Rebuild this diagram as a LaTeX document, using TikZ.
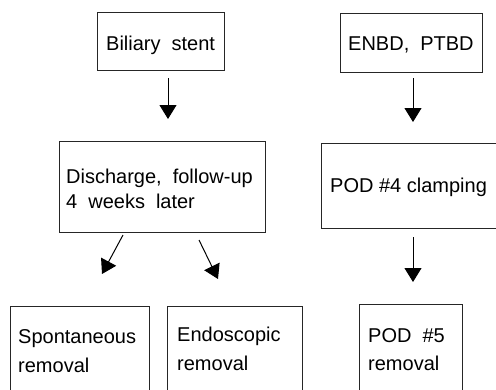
\documentclass[tikz,border=0pt]{standalone}
\usepackage{fontspec}
\setmainfont{Liberation Sans}
\usetikzlibrary{arrows.meta}
\begin{document}
\begin{tikzpicture}[x=1pt,y=-1pt,
  box/.style={draw=black!85, line width=0.8pt, inner sep=0pt, outer sep=0pt},
  txt/.style={anchor=base west, inner sep=0pt, font=\fontsize{20}{25}\selectfont, text=black},
  wide/.style={execute at begin node={\spaceskip=11pt plus 1pt}},
  arr/.style={line width=1pt, -{Triangle[length=14pt,width=17pt]}}]
\useasboundingbox (0,0) rectangle (496,389);
\clip (0,0) rectangle (496,389);
% boxes
\node[box, minimum width=127pt, minimum height=58pt] (b1) at (160.5,41) {};
\node[box, minimum width=142pt, minimum height=59pt] (b2) at (411,42.5) {};
\node[box, minimum width=206pt, minimum height=91pt] (b3) at (162,186.5) {};
\node[box, minimum width=189pt, minimum height=85pt] (b4) at (415.5,185.5) {};
\node[box, minimum width=139pt, minimum height=100pt] (b5) at (79.5,356) {};
\node[box, minimum width=135pt, minimum height=100pt] (b6) at (234.5,356) {};
\node[box, minimum width=103pt, minimum height=102pt] (b7) at (410.5,355) {};
% texts
\node[txt, wide] (t1) at (106,50) {Biliary stent};
\node[txt, wide] (t2) at (348,50) {ENBD, PTBD};
\node[txt, wide] (t3a) at (66,183) {Discharge, follow-up};
\node[txt, wide] (t3b) at (66,208) {4 weeks later};
\node[txt] (t4) at (330,192) {POD \#4 clamping};
\node[txt] (t5a) at (18,343) {Spontaneous};
\node[txt] (t5b) at (18,372) {removal};
\node[txt] (t6a) at (177,341) {Endoscopic};
\node[txt] (t6b) at (177,370) {removal};
\node[txt, wide] (t7a) at (368,342) {POD \#5};
\node[txt] (t7b) at (368,370) {removal};
% arrow ends
\coordinate (a1s) at (168,78);  \coordinate (a1e) at (168,119);
\coordinate (a2s) at (413,78);  \coordinate (a2e) at (413,122);
\coordinate (a3s) at (123,235); \coordinate (a3e) at (102,274);
\coordinate (a4s) at (199,240); \coordinate (a4e) at (218,279);
\coordinate (a5s) at (413,237); \coordinate (a5e) at (413,282);
\draw[arr] (a1s) -- (a1e);
\draw[arr] (a2s) -- (a2e);
\draw[arr] (a3s) -- (a3e);
\draw[arr] (a4s) -- (a4e);
\draw[arr] (a5s) -- (a5e);
\end{tikzpicture}
\end{document}
